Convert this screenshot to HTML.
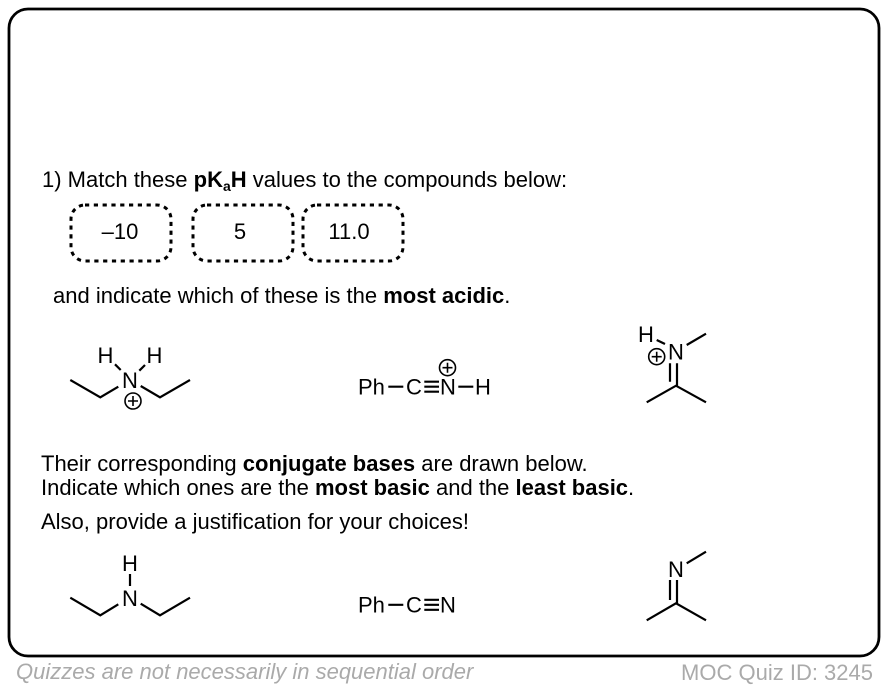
<!DOCTYPE html>
<html>
<head>
<meta charset="utf-8">
<style>
html,body{margin:0;padding:0;background:#fff;width:888px;height:688px;overflow:hidden}
svg{display:block}
text{font-family:"Liberation Sans",Arial,sans-serif;fill:#000}
.t{font-size:22px}
.c{font-size:22px;text-anchor:middle}
.b{font-weight:bold}
.l{fill:none;stroke:#000;stroke-width:2.2}
.d{fill:none;stroke:#000;stroke-width:3;stroke-dasharray:4.2 4.6}
.o{fill:none;stroke:#000;stroke-width:1.6}
.g{fill:#aaa;font-size:22px}
</style>
</head>
<body>
<svg width="888" height="688" viewBox="0 0 888 688" xmlns="http://www.w3.org/2000/svg">
<rect x="9" y="9" width="870" height="647" rx="19" ry="19" fill="#fff" stroke="#000" stroke-width="2.8"/>

<text class="t" x="42" y="187">1) Match these <tspan class="b">pK<tspan font-size="14" dy="4">a</tspan><tspan dy="-4">H</tspan></tspan> values to the compounds below:</text>

<rect class="d" x="71" y="205" width="100" height="56" rx="14"/>
<rect class="d" x="193" y="205" width="100" height="56" rx="14"/>
<rect class="d" x="303" y="205" width="100" height="56" rx="14"/>
<text class="c" x="120" y="239">–10</text>
<text class="c" x="240" y="239">5</text>
<text class="c" x="349" y="239">11.0</text>

<text class="t" x="53" y="303">and indicate which of these is the <tspan class="b">most acidic</tspan>.</text>

<!-- Molecule 1 -->
<text class="c" x="105.500" y="363">H</text>
<text class="c" x="154.500" y="363">H</text>
<text class="c" x="130" y="388">N</text>
<path class="l" d="M70.300 380L100.300 397.300L118.300 386.700M140.700 386L160 397.300L190 380M115 364.300L120.700 370M145 365L139.300 370.700"/>
<circle class="o" cx="133" cy="401" r="8"/>
<path class="o" d="M128 401H138M133 396V406"/>

<!-- Molecule 2 -->
<text class="t" x="358" y="394.500">Ph</text>
<text class="c" x="414" y="394.500">C</text>
<text class="c" x="448" y="394.500">N</text>
<text class="c" x="483" y="394.500">H</text>
<path class="l" d="M388.300 386.700H403.300M424.300 381.700H439M424.300 386.700H439M424.300 391.700H439M458.300 386.700H473.300"/>
<circle class="o" cx="447.500" cy="367.700" r="8"/>
<path class="o" d="M442.500 367.700H452.500M447.500 362.700V372.700"/>

<!-- Molecule 3 -->
<text class="c" x="646" y="342">H</text>
<text class="c" x="676" y="359.500">N</text>
<path class="l" d="M656.700 340L665 344M686.700 345L706 333.700M670 363.300V381.700M677 363.300V385.700M646.700 402.300L676 385.700L706 402.300"/>
<circle class="o" cx="656.700" cy="356.700" r="8"/>
<path class="o" d="M651.700 356.700H661.700M656.700 351.700V361.700"/>

<text class="t" x="41" y="471">Their corresponding <tspan class="b">conjugate bases</tspan> are drawn below.</text>
<text class="t" x="41" y="495">Indicate which ones are the <tspan class="b">most basic</tspan> and the <tspan class="b">least basic</tspan>.</text>
<text class="t" x="41" y="529">Also, provide a justification for your choices!</text>

<!-- Molecule 4 -->
<text class="c" x="130" y="571">H</text>
<text class="c" x="130" y="606">N</text>
<path class="l" d="M130 574V586M70.300 597.700L100.300 615.300L118.300 604.300M140.700 603.700L160 615.300L190 597.700"/>

<!-- Molecule 5 -->
<text class="t" x="358" y="612.500">Ph</text>
<text class="c" x="414" y="612.500">C</text>
<text class="c" x="448" y="612.500">N</text>
<path class="l" d="M388.300 604.800H403.300M424.300 599.800H439M424.300 604.800H439M424.300 609.800H439"/>

<!-- Molecule 6 -->
<text class="c" x="676" y="577">N</text>
<path class="l" d="M686.700 563.300L706 551.700M670 580V600M677 580V603.300M646.700 620.300L676 603.300L706 620.300"/>

<text class="g" x="16" y="679" font-style="italic">Quizzes are not necessarily in sequential order</text>
<text class="g" x="873" y="680" text-anchor="end">MOC Quiz ID: 3245</text>
</svg>
</body>
</html>
